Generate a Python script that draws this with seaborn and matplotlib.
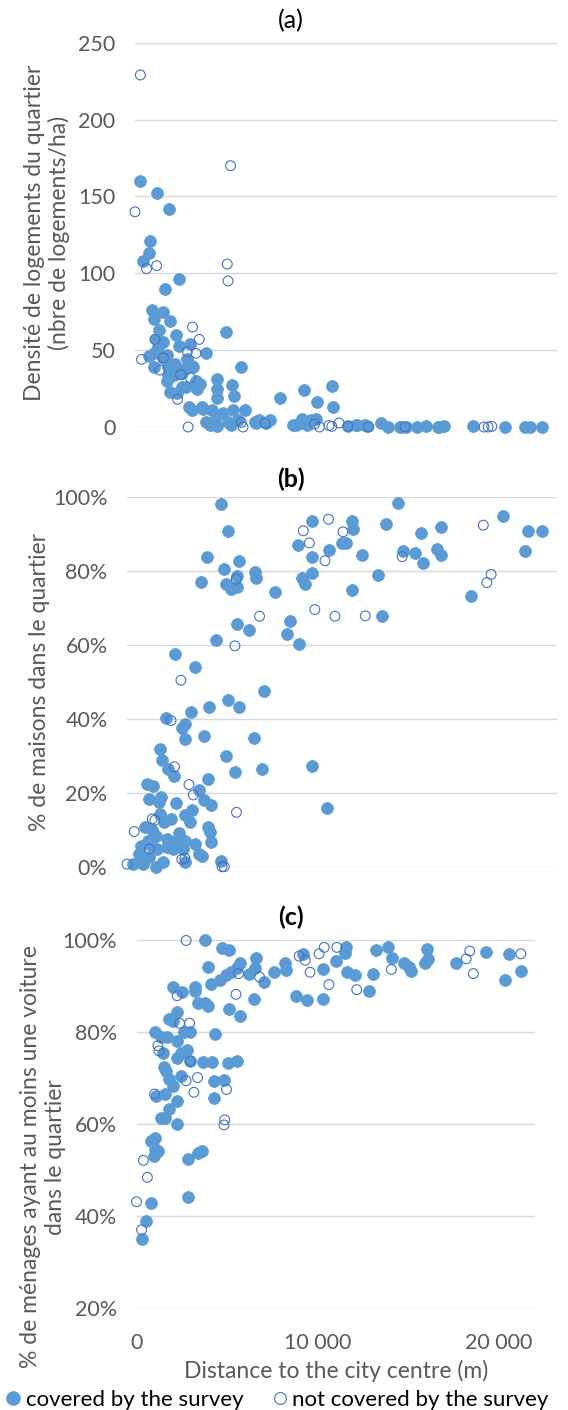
import matplotlib
matplotlib.use("Agg")
import matplotlib.pyplot as plt
import numpy as np
import pandas as pd
import seaborn as sns
from matplotlib.lines import Line2D
from matplotlib.ticker import FuncFormatter

# ---------------- data ----------------
# (a) housing density (dwellings / ha) vs distance (m)
a_cov_x = [260, 1160, 1770, 780, 750, 400, 2270, 1580, 870, 1470, 990, 1820, 1270, 2130, 1090,
           1440, 2310, 2860, 3690, 4730, 990, 750, 1650, 990, 1730, 2080, 3030, 2430, 1730, 5550,
           4250, 1820, 2170, 2650, 3240, 4250, 5080, 5150, 4280, 2830, 2950, 3520, 4040, 4590,
           5110, 5720, 3690, 4160, 4850, 5370, 6240, 6460, 7020, 7540, 8230, 8580, 8380, 8790,
           8700, 8980, 9170, 9450, 9470, 10260, 10300, 11100, 11520, 11990, 12830, 13210, 13830,
           14110, 14710, 15150, 15800, 16120, 17630, 19280, 20350, 20590, 21200, 1470, 1820,
           2010, 2600, 2950, 3200, 2430, 3470, 4070, 6330, 6850, 8670, 3900, 4300, 5000, 11560,
           12080, 13860, 15860, 1200, 2700, 3400, 1650]
a_cov_y = [160, 152, 142, 121, 113, 108, 96, 90, 76, 75, 70, 69, 63, 60, 57,
           55, 53, 54, 48, 62, 48, 46, 47, 39, 39, 41, 39, 35, 34, 39,
           31, 23, 22, 26, 25, 25, 27, 20, 19, 13, 11, 12, 11, 9,
           11, 11, 3.5, 4.5, 3.5, 4.5, 3.5, 4.5, 4.5, 18.6, 1.3, 2.4, 1, 24,
           5.4, 1, 4.8, 5.4, 16, 26.5, 12.8, 0.4, 1, 1, 2.8, 0, 0,
           0, 0, 0.4, 0, 0.4, 0.4, 0, 0, 0, 0, 45, 40,
           34, 38, 40, 30, 26, 13, 3.5, 2.4, 2.8, 4, 1, 0.5, 1, 1.3,
           0.6, 0, 0, 52, 44, 28, 30]
a_not_x = [280, 0, 4980, 600, 1130, 4810, 4850, 340, 3000, 3350, 3180, 2730, 1480, 1300, 2380,
           2890, 2220, 2770, 5540, 5630, 6780, 9360, 9620, 10110, 10260, 10640, 11090, 12190,
           14080, 18190, 18410, 18600, 1040]
a_not_y = [229, 140, 170, 103, 105, 106, 95, 44, 65, 57, 48, 49, 45, 37, 34,
           32, 18, 0, 3, 0, 2.5, 2, 0, 1, 0.4, 2.6, 0.5, 0,
           0, 0, 0, 0.4, 57]

# (b) share of houses in the neighbourhood (%)
b_cov_x = [4790, 5150, 4090, 4950, 5740, 3810, 5040, 5320, 5650, 5650, 6570, 6610, 7590, 4550,
           5620, 6220, 8320, 8210, 8780, 8730, 9460, 9460, 9460, 8970, 9110, 10310, 11010, 11230,
           11490, 11560, 11530, 12000, 12830, 13070, 13260, 13840, 14120, 14760, 15040, 15130,
           15870, 16050, 16090, 17620, 19240, 20380, 20510, 21210, 2470, 3480, 7030, 5190, 5740,
           4220, 3280, 1970, 2950, 2800, 2980, 3960, 6520, 1690, 1790, 5040, 5500, 6890, 9460,
           10250, 2120, 2390, 1010, 1330, 1140, 1750, 2490, 1640, 3310, 3660, 4140, 3960, 4310,
           4140, 4230, 4310, 3200, 2250, 2950, 1690, 920, 1050, 740, 1470, 2060, 2490, 2980, 3500,
           3830, 1510, 2060, 2340, 2890, 310, 810, 1470, 1820, 2980, 4790, 590, 1140, 1300, 2650,
           1900, 3700, 1250]
b_cov_y = [98, 90.8, 83.6, 80.4, 82.7, 77, 76.4, 75, 75.5, 78.5, 79.7, 77.9, 74.3, 61.4,
           65.7, 63.9, 66.3, 63, 60.1, 86.9, 93.4, 83.6, 79.4, 77.9, 76.4, 85.7, 87.5, 87.4,
           93.5, 91.2, 74.9, 84.2, 78.8, 67.7, 92.6, 98.2, 85.4, 84.8, 90.1, 82.2,
           86, 84.2, 91.9, 73.2, 94.8, 85.3, 90.8, 90.7, 57.6, 54, 47.4, 45.1, 43.1,
           43.1, 41.8, 40.3, 38.6, 37.5, 34.6, 35.3, 34.7, 31.9, 28.9, 29.8, 25.7, 26.3, 27.3,
           15.9, 26.4, 24.6, 22.4, 21.8, 18.3, 18.8, 17.2, 17.4, 15.4, 20.8, 23.6, 17.9, 16.8,
           10.8, 9.3, 6.8, 12, 12.9, 14.1, 14.3, 10.6, 7, 5.7, 8.4, 7.5, 7, 7, 6.1,
           3, 4.8, 5.2, 4.8, 4.8, 0.7, 0.7, 0, 1.2, 1.2, 1.6, 3.4, 2.5, 10, 9,
           12, 3.5, 6]
b_not_x = [0, 370, 1140, 2250, 2430, 2760, 3170, 3390, 2800, 5520, 5600, 6780, 4860, 4970,
           9020, 9330, 9610, 10130, 10310, 10640, 11050, 12190, 14080, 18230, 18410, 18630,
           1290, 5590, 2960, 1430]
b_not_y = [0.7, 9.5, 4.8, 39.5, 27, 50.4, 22.2, 19.4, 2, 59.7, 14.7, 67.7, 0, 0,
           90.8, 87.5, 69.5, 82.7, 93.9, 67.7, 90.5, 67.8, 83.8, 92.3, 76.8, 79,
           12.9, 77.7, 2.3, 12.6]

# (c) households with at least one car (%)
c_cov_x = [3790, 4730, 5130, 3970, 3230, 3230, 2000, 2500, 4130, 4930, 5730, 6570, 6530, 7030,
           6230, 7570, 6490, 8220, 8280, 9180, 8780, 9420, 10320, 10280, 11020, 11580, 11520,
           11620, 12080, 12820, 13050, 13210, 13870, 14110, 14770, 15070, 15170, 15910, 16050,
           16070, 17650, 19300, 20360, 20560, 21200, 3790, 3370, 3970, 5130, 5690, 1800, 2240,
           4330, 1040, 1680, 2640, 2240, 2970, 2780, 2240, 1440, 2440, 2970, 3690, 4190, 5030,
           5530, 1500, 1640, 2440, 1780, 4270, 4830, 2000, 1600, 1080, 2240, 4270, 1780, 1380,
           1600, 2240, 800, 1040, 1000, 1180, 940, 2870, 3370, 3630, 780, 2870, 500, 300, 2040,
           1340, 4630, 5230, 5530]
c_cov_y = [99.9, 98.2, 97.8, 94.2, 89.7, 89, 89.7, 88.6, 90.5, 92.4, 95.1, 96.1, 93.9, 90.9,
           92.6, 93.1, 87.1, 95, 93.5, 96.9, 87.9, 87, 93.7, 87.1, 95.4, 98.4, 97.2,
           93.1, 92.4, 89, 92.7, 97.8, 98.4, 96.1, 95.1, 94.2, 93.3, 95, 98.1,
           95.9, 95.1, 97.4, 91.2, 97, 93.3, 86.2, 86.4, 85.6, 84.9, 83.5, 82.9, 84.3,
           79.6, 80, 78.9, 80, 78.1, 80, 76.1, 74.3, 75.5, 75.5, 73.7, 73.4, 73.5, 73.3,
           73.8, 72.4, 71.6, 70.4, 69.8, 69.4, 69.5, 68.2, 66.5, 66, 65.1, 65.6, 63.3, 61.2,
           61.3, 60, 56.4, 57, 54.6, 54.2, 53.1, 52.3, 53.8, 54.2, 42.8, 44.1, 38.9, 35.1, 82.3,
           78.9, 91.4, 93, 93.9]
c_not_x = [2740, 0, 280, 380, 600, 1180, 2240, 2380, 2930, 2740, 3370, 3170, 2970, 4830, 4870,
           4970, 5490, 5630, 6790, 8980, 9320, 9580, 10080, 10360, 10620, 11060, 12160, 14070,
           18200, 18400, 18600, 21220, 1000, 1240]
c_not_y = [99.9, 43.1, 37, 52.1, 48.4, 77, 87.9, 81.9, 81.9, 69.4, 70.1, 66.9, 73.7, 59.8, 60.9,
           67.5, 88.2, 92.7, 92, 96.5, 95.6, 93, 97, 98.4, 90.3, 98.4, 89.2, 93.6,
           95.9, 97.6, 92.7, 97, 66.5, 75.9]

x_ticks = [0, 10000, 20000]
x_tick_labels = ["0", "10 000", "20 000"]
a_yticks = [0, 50, 100, 150, 200, 250]
b_yticks = [0, 20, 40, 60, 80, 100]
c_yticks = [20, 40, 60, 80, 100]
titles = ["(a)", "(b)", "(c)"]
ylabels = ["Densité de logements du quartier\n(nbre de logements/ha)",
           "% de maisons dans le quartier",
           "% de ménages ayant au moins une voiture\ndans le quartier"]
xlabel = "Distance to the city centre (m)"
legend_labels = ["covered by the survey", "not covered by the survey"]

# ---------------- style ----------------
sns.set_style("white")
plt.rcParams["font.family"] = ["Lato", "DejaVu Sans"]
FILL = "#5B9BD5"
HOLLOW = "#4472C4"
GRID = "#D9D9D9"
TXT = "#595959"
FS_TICK = 15.5
FS_LAB = 16.5
FS_TITLE = 18
FS_LEG = 16

W, H = 568, 1410
fig = plt.figure(figsize=(W / 100, H / 100), dpi=100)


def box(l, r, t, b):
    return [l / W, 1 - b / H, (r - l) / W, (b - t) / H]


panels = [
    dict(pos=box(135, 557, 42.7, 427), cx=a_cov_x, cy=a_cov_y, nx=a_not_x, ny=a_not_y,
         ylim=(0, 250), yticks=a_yticks, pct=False, title_y=21, bold=False,
         ylab_x=47, ylab_y=233),
    dict(pos=box(127, 557, 496.7, 866.7), cx=b_cov_x, cy=b_cov_y, nx=b_not_x, ny=b_not_y,
         ylim=(0, 100), yticks=b_yticks, pct=True, title_y=479, bold=True,
         ylab_x=40, ylab_y=682),
    dict(pos=box(136.5, 535, 940, 1308), cx=c_cov_x, cy=c_cov_y, nx=c_not_x, ny=c_not_y,
         ylim=(20, 100), yticks=c_yticks, pct=True, title_y=917, bold=True,
         ylab_x=43, ylab_y=1157),
]

for i, p in enumerate(panels):
    ax = fig.add_axes(p["pos"])
    dc = pd.DataFrame({"x": p["cx"], "y": p["cy"]})
    dn = pd.DataFrame({"x": p["nx"], "y": p["ny"]})
    sns.scatterplot(data=dc, x="x", y="y", ax=ax, color=FILL, edgecolor=FILL,
                    s=72, linewidth=0.6, clip_on=False, zorder=3, legend=False)
    sns.scatterplot(data=dn, x="x", y="y", ax=ax, facecolor="none", edgecolor=HOLLOW,
                    s=50, linewidth=0.8, clip_on=False, zorder=4, legend=False)
    ax.set_xlim(0, 22000)
    ax.set_ylim(*p["ylim"])
    ax.set_yticks(p["yticks"])
    if p["pct"]:
        ax.yaxis.set_major_formatter(FuncFormatter(lambda v, _: f"{int(round(v))}%"))
    ax.set_xticks(x_ticks)
    if i == 2:
        ax.set_xticklabels(x_tick_labels)
    else:
        ax.set_xticklabels([])
    ax.tick_params(axis="both", length=0, labelsize=FS_TICK, colors=TXT, pad=14)
    ax.tick_params(axis="x", pad=18)
    ax.grid(False)
    ax.yaxis.grid(True, color=GRID, linewidth=1.0)
    ax.set_axisbelow(True)
    for s in ax.spines.values():
        s.set_visible(False)
    ax.set_xlabel("")
    ax.set_ylabel("")
    fig.text(291 / W, 1 - p["title_y"] / H, titles[i], ha="center", va="center",
             fontsize=FS_TITLE, color="black", fontweight="bold" if p["bold"] else "normal")
    fig.text(p["ylab_x"] / W, 1 - p["ylab_y"] / H, ylabels[i], rotation=90,
             ha="center", va="center", fontsize=FS_LAB, color=TXT, multialignment="center",
             linespacing=1.2)

fig.text(336 / W, 1 - 1371 / H, xlabel, ha="center", va="center", fontsize=FS_LAB, color=TXT)

handles = [Line2D([], [], marker="o", linestyle="none", markersize=9.5,
                  markerfacecolor=FILL, markeredgecolor=FILL),
           Line2D([], [], marker="o", linestyle="none", markersize=8.5,
                  markerfacecolor="none", markeredgecolor=HOLLOW, markeredgewidth=0.8)]
leg = fig.legend(handles, legend_labels, loc="center", bbox_to_anchor=(276 / W, 1 - 1400 / H),
                 ncol=2, frameon=False, fontsize=FS_LEG, handletextpad=0.1, columnspacing=1.2,
                 handlelength=0.9, borderaxespad=0, borderpad=0)
for t in leg.get_texts():
    t.set_color("black")

fig.savefig("out.png", dpi=100)
